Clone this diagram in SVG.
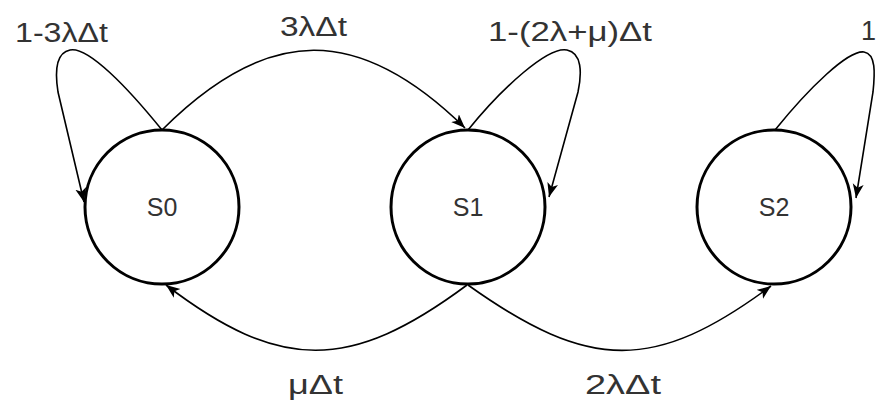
<svg xmlns="http://www.w3.org/2000/svg" width="877" height="403" viewBox="0 0 877 403">
<defs>
<style>
.node{fill:#fff;stroke:#000;stroke-width:3}
.edge{fill:none;stroke:#000;stroke-width:1.6;marker-end:url(#arr)}
.lbl{font-family:"Liberation Sans",Arial,sans-serif;font-size:27px;fill:#333}
.st{font-family:"Liberation Sans",Arial,sans-serif;font-size:25px;fill:#333;text-anchor:middle}
</style>
<marker id="arr" markerUnits="userSpaceOnUse" markerWidth="15" markerHeight="12" refX="14" refY="5.5" orient="auto">
<path d="M0,0 L14,5.5 L0,11 L3.5,5.5 z" fill="#000"/>
</marker>
</defs>
<rect width="877" height="403" fill="#fff"/>
<g id="connectors">
<path class="edge" d="M162,130 C128,88 88,46 70,50 C55,53 55,73 58,92 L84,202"/>
<path class="edge" d="M162,130 C268,24 359,24 465,128"/>
<path class="edge" d="M468,130 C502,88 548,46 567,50 C582,53 582,73 578,92 L549,197"/>
<path class="edge" d="M775,130 C809,88 848,50 864,52 C876,54 875,73 873,92 L856,198"/>
<path class="edge" d="M467,285 C350,372 280,372 166,285"/>
<path class="edge" d="M468,285 C590,372 655,372 771,286"/>
</g>
<g id="S0"><circle class="node" cx="162" cy="207" r="77"/><text class="st" x="162" y="216">S0</text></g>
<g id="S1"><circle class="node" cx="468" cy="207" r="77"/><text class="st" x="468" y="216">S1</text></g>
<g id="S2"><circle class="node" cx="774" cy="207" r="77"/><text class="st" x="774" y="216">S2</text></g>
<g id="labels">
<text class="lbl" x="15" y="42" textLength="93" lengthAdjust="spacingAndGlyphs">1-3λΔt</text>
<text class="lbl" x="280" y="36" textLength="67" lengthAdjust="spacingAndGlyphs">3λΔt</text>
<text class="lbl" x="488" y="41" textLength="164" lengthAdjust="spacingAndGlyphs">1-(2λ+μ)Δt</text>
<text class="lbl" x="861" y="40">1</text>
<text class="lbl" x="288" y="394" textLength="55" lengthAdjust="spacingAndGlyphs">μΔt</text>
<text class="lbl" x="585" y="394" textLength="76" lengthAdjust="spacingAndGlyphs">2λΔt</text>
</g>
</svg>
